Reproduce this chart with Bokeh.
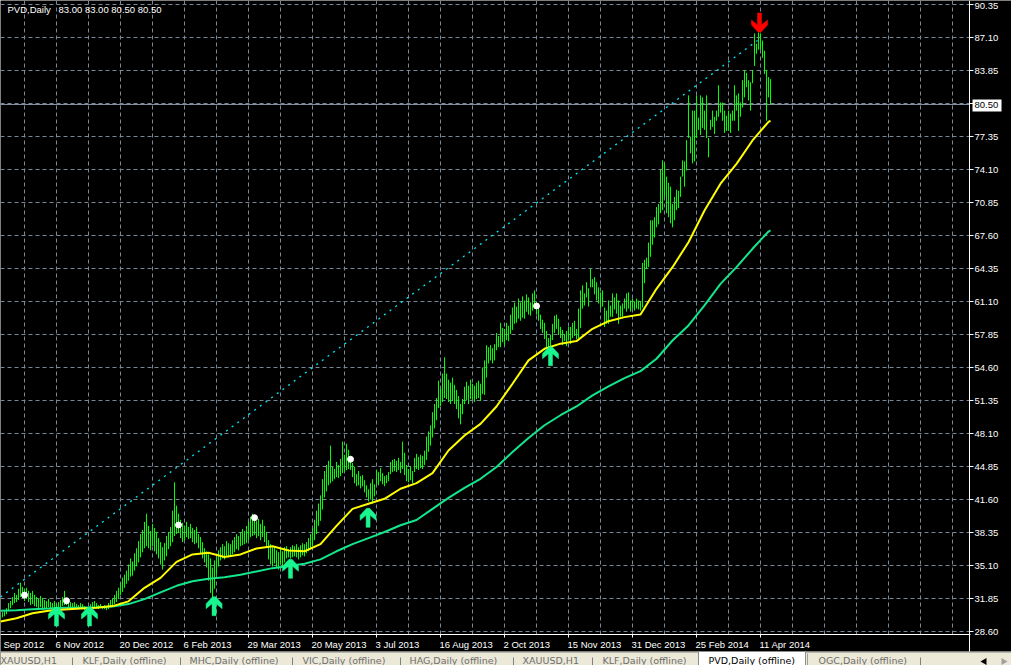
from bokeh.plotting import figure
from bokeh.models import Range1d
from bokeh.embed import file_html
from bokeh.resources import INLINE
from bokeh.core.properties import value

# ---------------- data ----------------
symbol_name = "PVD,Daily"
symbol_quote = "83.00 83.00 80.50 80.50"

first_bar_index = -28          # bar 0 = 6 Nov 2012, one bar per trading day

bar_high = [
    30.2, 30.5, 30.6, 30.9, 31.4, 31.6, 32.0, 32.4, 32.2, 32.8, 33.4, 33.0,
    32.8, 32.9, 32.6, 32.4, 32.6, 32.2, 32.0, 31.8, 32.1, 31.9, 31.7, 31.6, 31.8, 31.5, 31.4, 31.6,
    31.3, 31.5, 31.7, 32.0, 32.6, 31.9, 31.6, 31.5, 31.4, 31.5, 31.3, 31.2, 31.4, 31.3, 31.1, 31.0,
    31.0, 31.3, 31.5, 31.6, 31.4, 31.2, 31.3, 31.1, 31.2, 31.0, 31.4, 31.7, 31.9, 32.2, 32.6, 32.9,
    33.4, 33.9, 34.2, 34.6, 35.2, 35.8, 35.5, 36.3, 36.8, 37.5, 38.2, 38.6, 39.4, 40.2, 39.0, 38.5,
    39.2, 38.8, 38.4, 37.8, 37.4, 36.9, 37.3, 38.0, 38.4, 38.9, 40.5, 43.3, 41.0, 40.2, 39.6, 39.3,
    39.0, 39.4, 38.9, 39.2, 38.8, 38.6, 38.9, 38.2, 37.9, 37.4, 36.8, 36.5, 36.2, 35.8, 34.9, 35.6,
    36.0, 36.6, 36.9, 37.2, 37.0, 37.5, 37.3, 37.2, 37.6, 37.9, 38.2, 38.0, 38.4, 38.7, 38.5, 39.0,
    39.4, 39.9, 40.2, 40.0, 39.5, 39.7, 39.2, 39.6, 39.0, 38.4, 37.6, 37.2, 36.9, 37.0, 36.6, 36.4,
    36.8, 36.5, 36.9, 37.0, 36.7, 36.9, 37.1, 37.0, 37.2, 36.9, 37.1, 37.3, 37.2, 37.4, 37.8, 38.2,
    38.8, 39.6, 40.5, 41.2, 42.0, 43.6, 44.4, 45.0, 45.4, 46.9, 44.8, 44.6, 45.3, 45.0, 45.6, 47.3,
    46.0, 47.1, 46.5, 45.9, 45.2, 44.8, 44.1, 44.4, 43.9, 44.0, 43.5, 43.0, 42.6, 43.2, 43.6, 43.1,
    44.5, 44.3, 44.7, 44.2, 43.9, 44.0, 44.3, 45.3, 45.5, 45.6, 45.4, 45.7, 45.3, 47.3, 46.2, 45.0,
    44.6, 44.9, 44.4, 45.7, 46.1, 45.8, 46.0, 45.9, 46.4, 47.8, 48.3, 48.9, 50.2, 51.0, 51.6, 53.3,
    52.5, 54.0, 55.6, 54.0, 53.4, 53.1, 53.6, 52.9, 52.4, 51.8, 51.0, 51.5, 52.7, 53.2, 52.8, 53.4,
    53.0, 52.8, 53.1, 53.3, 53.0, 54.6, 55.3, 56.8, 56.6, 56.8, 56.5, 56.9, 58.0, 57.7, 59.0, 58.5,
    58.4, 59.0, 58.7, 59.8, 60.5, 61.0, 60.6, 61.4, 61.0, 61.6, 61.2, 61.8, 61.5, 61.0, 61.9, 62.2,
    61.0, 60.6, 59.8, 59.3, 59.0, 58.2, 57.5, 57.8, 58.9, 59.7, 59.8, 59.4, 58.6, 58.3, 57.9, 58.2,
    58.6, 58.6, 59.0, 59.2, 58.4, 60.4, 62.2, 62.7, 61.9, 63.0, 62.4, 64.3, 63.3, 63.5, 63.0, 62.5,
    62.0, 62.2, 60.5, 60.2, 61.2, 60.7, 61.9, 61.5, 61.9, 61.2, 60.7, 60.9, 61.4, 61.9, 62.0, 61.2,
    61.4, 61.1, 61.4, 61.2, 61.1, 64.9, 65.2, 65.4, 66.9, 69.1, 69.1, 69.4, 70.4, 70.7, 74.1, 75.0,
    74.7, 73.4, 72.8, 72.4, 70.7, 71.4, 72.1, 72.0, 73.4, 75.0, 74.9, 77.0, 81.4, 77.3, 79.9, 79.9,
    81.4, 79.2, 81.4, 81.2, 79.9, 81.4, 77.2, 79.0, 79.9, 79.3, 79.9, 82.4, 80.7, 80.7, 79.9, 79.4,
    79.9, 79.6, 79.9, 82.4, 81.4, 81.6, 80.7, 82.9, 83.9, 83.6, 82.9, 82.7, 83.9, 87.5, 86.5, 87.6,
    87.5, 86.8, 85.8, 83.9, 83.2, 83.0,
]

bar_low = [
    29.8, 30.0, 30.1, 30.3, 30.6, 30.9, 31.2, 31.4, 31.5, 31.7, 32.0, 31.9,
    31.6, 31.8, 31.5, 31.2, 31.3, 31.1, 31.0, 30.9, 31.0, 30.9, 30.8, 30.9, 31.0, 30.8, 30.7, 30.8,
    30.7, 30.9, 31.0, 31.1, 31.2, 31.2, 31.0, 30.9, 30.9, 31.0, 30.9, 30.8, 30.9, 30.8, 30.7, 30.6,
    30.6, 30.7, 30.9, 31.0, 30.9, 30.8, 30.9, 30.8, 30.8, 30.7, 30.8, 31.0, 31.2, 31.3, 31.5, 31.8,
    32.2, 32.5, 32.9, 33.3, 33.6, 34.0, 34.1, 34.6, 35.0, 35.4, 35.9, 36.4, 36.8, 37.0, 36.8, 36.6,
    37.0, 36.5, 36.2, 35.8, 35.2, 34.7, 35.6, 36.0, 36.7, 37.0, 37.4, 38.0, 38.2, 38.3, 37.8, 37.4,
    37.6, 37.9, 37.7, 37.8, 37.4, 37.2, 37.3, 36.8, 36.3, 35.8, 35.4, 34.9, 33.6, 32.4, 30.3, 32.8,
    34.2, 35.0, 35.6, 35.8, 35.7, 36.0, 35.9, 36.0, 36.2, 36.4, 36.7, 36.6, 37.0, 37.1, 37.2, 37.3,
    37.6, 37.9, 38.0, 38.1, 37.8, 38.0, 37.6, 37.9, 37.4, 36.9, 35.7, 35.2, 35.0, 35.3, 34.9, 34.7,
    35.2, 35.0, 35.4, 35.8, 35.9, 35.8, 35.9, 36.0, 35.9, 35.7, 35.9, 36.1, 36.0, 36.3, 36.5, 36.8,
    37.0, 37.6, 38.2, 39.0, 39.5, 40.6, 41.8, 42.4, 43.0, 43.2, 43.4, 43.6, 43.8, 43.7, 43.9, 44.2,
    44.3, 44.5, 44.6, 44.5, 43.8, 43.2, 42.9, 43.0, 42.7, 42.9, 42.3, 41.8, 41.4, 41.6, 41.2, 41.9,
    43.1, 43.0, 43.4, 43.1, 42.9, 43.2, 43.4, 44.1, 44.3, 44.4, 44.3, 44.5, 44.2, 44.6, 44.0, 43.4,
    43.3, 43.5, 43.2, 44.3, 44.6, 44.5, 44.7, 44.6, 45.0, 45.5, 46.3, 46.9, 47.7, 48.6, 49.4, 50.6,
    50.8, 51.2, 51.6, 51.5, 51.2, 51.0, 51.3, 51.0, 50.5, 49.6, 49.0, 50.0, 51.0, 51.4, 51.0, 51.5,
    51.4, 51.2, 51.5, 51.6, 51.3, 52.0, 51.9, 53.6, 55.0, 55.3, 55.0, 55.3, 56.3, 56.6, 56.6, 57.1,
    56.8, 57.3, 57.2, 57.9, 58.3, 58.9, 59.0, 59.4, 59.2, 59.5, 59.4, 60.1, 59.8, 59.7, 60.2, 60.5,
    59.8, 59.2, 58.4, 58.0, 57.4, 56.6, 56.6, 56.6, 57.3, 58.0, 58.4, 57.8, 57.5, 56.8, 57.2, 56.7,
    57.3, 56.9, 57.5, 57.7, 57.4, 57.5, 58.5, 60.4, 60.7, 61.5, 60.6, 62.5, 62.5, 61.8, 61.2, 60.9,
    60.4, 60.6, 58.6, 58.9, 58.9, 59.6, 59.6, 60.3, 59.9, 58.9, 59.6, 59.6, 60.4, 60.1, 60.4, 60.1,
    60.4, 60.2, 60.4, 60.3, 60.2, 60.5, 62.9, 64.3, 64.5, 65.5, 66.7, 67.4, 68.4, 68.7, 69.8, 70.1,
    71.4, 69.8, 69.4, 68.8, 68.4, 69.1, 70.1, 70.3, 71.4, 73.4, 72.4, 74.0, 77.2, 75.7, 74.7, 74.9,
    77.2, 78.0, 77.5, 78.2, 78.0, 77.2, 75.3, 78.0, 78.3, 77.6, 78.9, 79.3, 79.7, 78.9, 77.7, 77.9,
    77.9, 77.7, 78.9, 78.9, 79.9, 77.9, 79.3, 80.2, 81.2, 82.2, 80.9, 79.9, 82.6, 84.3, 85.5, 85.9,
    85.9, 85.1, 83.5, 78.9, 81.2, 80.5,
]

ma_index = [-28, -20, -12, -4, 4, 12, 20, 28, 36, 44, 52, 60, 68, 76, 84, 92, 100, 108, 116, 124,
            132, 140, 148, 156, 164, 172, 180, 188, 196, 204, 212, 220, 228, 236, 244, 252, 260,
            268, 276, 284, 292, 300, 308, 316, 324, 332, 340, 348, 356, 357]
ma_yellow = [29.58, 29.9, 30.4, 30.64, 30.77, 30.87, 30.94, 31.1, 31.57, 32.9, 33.88, 35.46, 36.19,
             36.35, 35.93, 36.19, 36.78, 37.0, 36.58, 36.5, 37.2, 39.0, 40.68, 41.18, 41.67, 42.66,
             43.21, 44.2, 46.43, 47.9, 49.05, 50.76, 53.0, 55.3, 56.44, 56.95, 57.2, 58.41, 59.16,
             59.56, 59.82, 62.35, 64.48, 66.94, 70.06, 72.7, 74.66, 76.96, 78.8, 78.9]
ma_green = [30.64, 30.7, 30.8, 30.86, 30.93, 30.96, 31.0, 31.06, 31.3, 31.79, 32.45, 33.1, 33.55,
            33.79, 33.95, 34.18, 34.51, 34.84, 35.04, 35.27, 35.7, 36.5, 37.2, 37.8, 38.4, 39.06,
            39.58, 40.68, 41.76, 42.75, 43.64, 44.8, 46.27, 47.66, 48.91, 49.9, 50.76, 51.85, 52.73,
            53.55, 54.24, 55.46, 57.26, 58.74, 60.71, 62.84, 64.48, 66.29, 67.99, 68.1]

trend_index = [-28, 350.5]
trend_price = [32.0, 86.8]

buy_index = [0, 16.5, 78.8, 117, 155.8, 247]
buy_price = [31.01, 31.01, 32.03, 35.71, 40.73, 56.65]
sell_index = [351.5]
sell_price = [87.64]

dot_index = [-16, 5, 61, 99, 147, 240]
dot_price = [32.19, 31.63, 39.09, 39.81, 45.56, 60.66]

last_price = 80.50

price_ticks = [28.60, 31.85, 35.10, 38.35, 41.60, 44.85, 48.10, 51.35, 54.60, 57.85,
               61.10, 64.35, 67.60, 70.85, 74.10, 77.35, 80.60, 83.85, 87.10, 90.35]

date_tick_index = [0, 32, 64, 96, 128, 160, 192, 224, 256, 288, 320, 352]
date_label_index = [-26, 0, 32, 64, 96, 128, 160, 192, 224, 256, 288, 320, 352]
date_labels = ["Sep 2012", "6 Nov 2012", "20 Dec 2012", "6 Feb 2013", "29 Mar 2013",
               "20 May 2013", "3 Jul 2013", "16 Aug 2013", "2 Oct 2013", "15 Nov 2013",
               "31 Dec 2013", "25 Feb 2014", "11 Apr 2014"]

tab_titles = ["XAUUSD,H1", "KLF,Daily (offline)", "MHC,Daily (offline)", "VIC,Daily (offline)",
              "HAG,Daily (offline)", "XAUUSD,H1", "KLF,Daily (offline)", "PVD,Daily (offline)",
              "OGC,Daily (offline)"]
active_tab = 7

assert len(bar_high) == len(bar_low)
assert len(ma_index) == len(ma_yellow) == len(ma_green)

# ---------------- geometry / style ----------------
W, H = 1011, 665
PX_X = 0.5                       # bars per pixel
PX_Y = 1 / 10.15385              # price per pixel
X_START = -28.0
Y_TOP = 90.35 + 4 * PX_Y
X_END = X_START + W * PX_X
Y_BOT = Y_TOP - H * PX_Y


def px_x(c):
    return X_START + c * PX_X


def px_y(r):
    return Y_TOP - r * PX_Y


BAR_COLOR = "#00FF00"
GRID_COLOR = "#778899"
FONT = "Liberation Sans"
TAB_FONT = "DejaVu Sans"

bar_index = list(range(first_bar_index, first_bar_index + len(bar_high)))

p = figure(width=W, height=H, x_range=Range1d(X_START, X_END), y_range=Range1d(Y_BOT, Y_TOP),
           output_backend="svg", toolbar_location=None, x_axis_type=None, y_axis_type=None,
           min_border=0, background_fill_color="black", border_fill_color="black",
           outline_line_color=None)

# grid (stops at the price scale)
vgrid = list(range(-16, 452, 16))
p.segment(x0=vgrid, y0=px_y(0), x1=vgrid, y1=px_y(634), line_color=GRID_COLOR,
          line_width=1, line_dash="4 3")
p.segment(x0=px_x(0), y0=price_ticks, x1=px_x(969), y1=price_ticks, line_color=GRID_COLOR,
          line_width=1, line_dash="4 3")

# current price line
p.segment(x0=px_x(0), y0=last_price, x1=px_x(969), y1=last_price, line_color="#8491A0",
          line_width=1)

# bars (high-low)
p.segment(x0=bar_index, y0=bar_low, x1=bar_index, y1=bar_high,
          line_color=BAR_COLOR, line_width=1)

# trend line
p.line(trend_index, trend_price, line_color="#00E8F8", line_width=1.3, line_dash="2 5")

# moving averages
p.line(ma_index, ma_green, line_color="#14E68C", line_width=2)
p.line(ma_index, ma_yellow, line_color="#FFFF00", line_width=2)

# signal arrows (shape in pixels relative to the tip)
ARROW = [(-1.5, 0), (1.5, 0), (8, 7), (8, 12), (2, 7), (2, 19), (-2, 19), (-2, 7), (-8, 12), (-8, 7)]
up_xs = [[k + dx * PX_X for dx, dy in ARROW] for k in buy_index]
up_ys = [[v - dy * PX_Y for dx, dy in ARROW] for v in buy_price]
p.patches(up_xs, up_ys, fill_color="#19F58F", line_color="#19F58F", line_width=0.5)
dn_xs = [[k + dx * PX_X for dx, dy in ARROW] for k in sell_index]
dn_ys = [[v + dy * PX_Y for dx, dy in ARROW] for v in sell_price]
p.patches(dn_xs, dn_ys, fill_color="#FF0000", line_color="#FF0000", line_width=0.5)

# dots
p.scatter(dot_index, dot_price, marker="circle", size=6, fill_color="white", line_color="white")

# header
p.text(x=[px_x(7), px_x(58)], y=[px_y(9), px_y(9)], text=[symbol_name, symbol_quote],
       text_color="white", text_font=value(FONT), text_font_size="9.5px",
       text_baseline="alphabetic", text_align="left")

# ---- price scale (right) ----
p.segment(x0=px_x(969), y0=px_y(0), x1=px_x(969), y1=px_y(651), line_color="white", line_width=1)
p.segment(x0=px_x(969), y0=price_ticks, x1=px_x(973), y1=price_ticks, line_color="white",
          line_width=1)
shown = [v for v in price_ticks if abs(v - last_price) > 0.5]
p.text(x=px_x(974), y=[min(v, px_y(5.5)) for v in shown], text=["%.2f" % v for v in shown],
       text_color="white", text_font=value(FONT), text_font_size="9.5px",
       text_baseline="middle", text_align="left")
p.quad(left=px_x(972), right=px_x(1001), top=px_y(99), bottom=px_y(111),
       fill_color="white", line_color=None)
p.text(x=[px_x(974)], y=[last_price], text=["%.2f" % last_price], text_color="black",
       text_font=value(FONT), text_font_size="9.5px", text_baseline="middle", text_align="left")

# ---- time scale (bottom) ----
p.segment(x0=px_x(0), y0=px_y(634), x1=px_x(970), y1=px_y(634), line_color="white", line_width=1)
p.segment(x0=date_tick_index, y0=px_y(634), x1=date_tick_index, y1=px_y(637),
          line_color="white", line_width=1)
p.text(x=date_label_index, y=px_y(638), text=date_labels, x_offset=-1,
       text_color="white", text_font=value(FONT), text_font_size="9.5px",
       text_baseline="top", text_align="left")

# ---- tab bar ----
tab_x = [0, 82, 189, 302, 409, 522, 602, 708, 818]
tab_color = ["#6E6E6E"] * len(tab_titles)
tab_color[active_tab] = "#000000"
sep_x = [72, 180, 292, 400, 513, 592, 920]

p.quad(left=px_x(0), right=px_x(W), top=px_y(651), bottom=px_y(652), fill_color="#FFFFFF",
       line_color=None)
p.quad(left=px_x(0), right=px_x(W), top=px_y(652), bottom=px_y(H), fill_color="#ECE9D8",
       line_color=None)
p.quad(left=px_x(698), right=px_x(805), top=px_y(651), bottom=px_y(H + 2), fill_color="white",
       line_color="#8C8C8C", line_width=1)
p.segment(x0=[px_x(807)], y0=px_y(653), x1=[px_x(807)], y1=px_y(H), line_color="#A0A0A0")
p.segment(x0=[px_x(c) for c in sep_x], y0=px_y(657), x1=[px_x(c) for c in sep_x], y1=px_y(H),
          line_color="#808080", line_width=1)
p.text(x=[px_x(c) for c in tab_x], y=px_y(654), text=tab_titles, text_color=tab_color,
       text_font=value(TAB_FONT), text_font_size="9.5px", text_baseline="top", text_align="left")
p.scatter(x=[px_x(984), px_x(1003)], y=[px_y(661), px_y(661)], marker="triangle", size=7,
          angle=[90, -90], angle_units="deg", fill_color=["#000000", "#A0A0A0"], line_color=None)

open("out.html", "w").write(file_html(p, INLINE))
